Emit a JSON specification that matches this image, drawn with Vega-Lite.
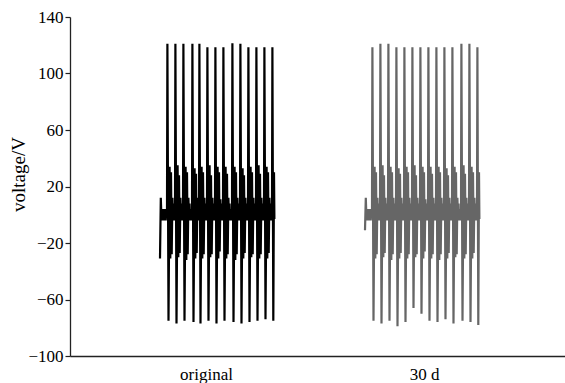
{
  "$schema": "https://vega.github.io/schema/vega-lite/v6.json",
  "width": 495,
  "height": 339,
  "autosize": {"type": "none"},
  "padding": {"left": 70, "top": 17, "right": 0, "bottom": 27},
  "background": "white",
  "config": {"view": {"stroke": null}},
  "datasets": {
    "w": [
      {"s":"a","t":90,"v":-31},{"s":"a","t":90.8,"v":12},{"s":"a","t":91.5,"v":-4},{"s":"a","t":92.2,"v":4},{"s":"a","t":92.9,"v":-4},{"s":"a","t":93.6,"v":4},{"s":"a","t":94.3,"v":-4},{"s":"a","t":95,"v":4},{"s":"a","t":95.7,"v":-4},{"s":"a","t":96.4,"v":3},
      {"s":"a","t":97,"v":3},{"s":"a","t":97.4,"v":121},{"s":"a","t":98.5,"v":-75},{"s":"a","t":99.6,"v":34},{"s":"a","t":100.3,"v":-31},{"s":"a","t":101,"v":30},{"s":"a","t":101.7,"v":-28},{"s":"a","t":102.4,"v":12},{"s":"a","t":103,"v":-4},{"s":"a","t":103.5,"v":8},{"s":"a","t":104,"v":-4},{"s":"a","t":104.5,"v":3},{"s":"a","t":104.8,"v":-3},
      {"s":"a","t":105,"v":3},{"s":"a","t":105.4,"v":121},{"s":"a","t":106.5,"v":-77},{"s":"a","t":107.6,"v":35},{"s":"a","t":108.3,"v":-30},{"s":"a","t":109,"v":28},{"s":"a","t":109.7,"v":-27},{"s":"a","t":110.4,"v":12},{"s":"a","t":111,"v":-4},{"s":"a","t":111.5,"v":8},{"s":"a","t":112,"v":-4},{"s":"a","t":112.5,"v":3},{"s":"a","t":112.8,"v":-3},
      {"s":"a","t":113,"v":3},{"s":"a","t":113.4,"v":121},{"s":"a","t":114.5,"v":-75},{"s":"a","t":115.6,"v":34},{"s":"a","t":116.3,"v":-32},{"s":"a","t":117,"v":30},{"s":"a","t":117.7,"v":-28},{"s":"a","t":118.4,"v":12},{"s":"a","t":119,"v":-4},{"s":"a","t":119.5,"v":8},{"s":"a","t":120,"v":-4},{"s":"a","t":120.5,"v":3},{"s":"a","t":121,"v":-4},{"s":"a","t":121.4,"v":4},{"s":"a","t":121.7,"v":-3},
      {"s":"a","t":122,"v":3},{"s":"a","t":122.4,"v":121},{"s":"a","t":123.5,"v":-76},{"s":"a","t":124.6,"v":33},{"s":"a","t":125.3,"v":-31},{"s":"a","t":126,"v":29},{"s":"a","t":126.7,"v":-27},{"s":"a","t":127.4,"v":12},{"s":"a","t":128,"v":-4},{"s":"a","t":128.5,"v":8},{"s":"a","t":128.8,"v":-3},
      {"s":"a","t":129,"v":3},{"s":"a","t":129.4,"v":121},{"s":"a","t":130.5,"v":-77},{"s":"a","t":131.6,"v":34},{"s":"a","t":132.3,"v":-31},{"s":"a","t":133,"v":30},{"s":"a","t":133.7,"v":-28},{"s":"a","t":134.4,"v":12},{"s":"a","t":135,"v":-4},{"s":"a","t":135.5,"v":8},{"s":"a","t":136,"v":-4},{"s":"a","t":136.5,"v":3},{"s":"a","t":136.8,"v":-3},
      {"s":"a","t":137,"v":3},{"s":"a","t":137.4,"v":118.5},{"s":"a","t":138.5,"v":-75},{"s":"a","t":139.6,"v":35},{"s":"a","t":140.3,"v":-30},{"s":"a","t":141,"v":28},{"s":"a","t":141.7,"v":-28},{"s":"a","t":142.4,"v":12},{"s":"a","t":143,"v":-4},{"s":"a","t":143.5,"v":8},{"s":"a","t":144,"v":-4},{"s":"a","t":144.5,"v":3},{"s":"a","t":144.8,"v":-3},
      {"s":"a","t":145,"v":3},{"s":"a","t":145.4,"v":118.5},{"s":"a","t":146.5,"v":-77},{"s":"a","t":147.6,"v":34},{"s":"a","t":148.3,"v":-31},{"s":"a","t":149,"v":30},{"s":"a","t":149.7,"v":-26},{"s":"a","t":150.4,"v":11},{"s":"a","t":151,"v":-4},{"s":"a","t":151.5,"v":8},{"s":"a","t":152,"v":-4},{"s":"a","t":152.5,"v":3},{"s":"a","t":152.8,"v":-3},
      {"s":"a","t":153,"v":3},{"s":"a","t":153.4,"v":118.5},{"s":"a","t":154.5,"v":-75},{"s":"a","t":155.6,"v":34},{"s":"a","t":156.3,"v":-31},{"s":"a","t":157,"v":29},{"s":"a","t":157.7,"v":-28},{"s":"a","t":158.4,"v":12},{"s":"a","t":159,"v":-4},{"s":"a","t":159.5,"v":8},{"s":"a","t":160,"v":-4},{"s":"a","t":160.5,"v":3},{"s":"a","t":161,"v":-4},{"s":"a","t":161.4,"v":4},{"s":"a","t":161.7,"v":-3},
      {"s":"a","t":162,"v":3},{"s":"a","t":162.4,"v":121.5},{"s":"a","t":163.5,"v":-76},{"s":"a","t":164.6,"v":34},{"s":"a","t":165.3,"v":-32},{"s":"a","t":166,"v":30},{"s":"a","t":166.7,"v":-28},{"s":"a","t":167.4,"v":12},{"s":"a","t":168,"v":-4},{"s":"a","t":168.5,"v":8},{"s":"a","t":169,"v":-4},{"s":"a","t":169.5,"v":3},{"s":"a","t":169.8,"v":-3},
      {"s":"a","t":170,"v":3},{"s":"a","t":170.4,"v":121},{"s":"a","t":171.5,"v":-77},{"s":"a","t":172.6,"v":33},{"s":"a","t":173.3,"v":-31},{"s":"a","t":174,"v":28},{"s":"a","t":174.7,"v":-27},{"s":"a","t":175.4,"v":12},{"s":"a","t":176,"v":-4},{"s":"a","t":176.5,"v":8},{"s":"a","t":177,"v":-4},{"s":"a","t":177.5,"v":3},{"s":"a","t":177.8,"v":-3},
      {"s":"a","t":178,"v":3},{"s":"a","t":178.4,"v":118.5},{"s":"a","t":179.5,"v":-76},{"s":"a","t":180.6,"v":34},{"s":"a","t":181.3,"v":-30},{"s":"a","t":182,"v":30},{"s":"a","t":182.7,"v":-28},{"s":"a","t":183.4,"v":12},{"s":"a","t":184,"v":-4},{"s":"a","t":184.5,"v":8},{"s":"a","t":185,"v":-4},{"s":"a","t":185.5,"v":3},{"s":"a","t":185.8,"v":-3},
      {"s":"a","t":186,"v":3},{"s":"a","t":186.4,"v":118.5},{"s":"a","t":187.5,"v":-75},{"s":"a","t":188.6,"v":35},{"s":"a","t":189.3,"v":-31},{"s":"a","t":190,"v":29},{"s":"a","t":190.7,"v":-28},{"s":"a","t":191.4,"v":12},{"s":"a","t":192,"v":-4},{"s":"a","t":192.5,"v":8},{"s":"a","t":193,"v":-4},{"s":"a","t":193.5,"v":3},{"s":"a","t":193.8,"v":-3},
      {"s":"a","t":194,"v":3},{"s":"a","t":194.4,"v":118.5},{"s":"a","t":195.5,"v":-74},{"s":"a","t":196.6,"v":34},{"s":"a","t":197.3,"v":-31},{"s":"a","t":198,"v":30},{"s":"a","t":198.7,"v":-27},{"s":"a","t":199.4,"v":12},{"s":"a","t":200,"v":-4},{"s":"a","t":200.5,"v":8},{"s":"a","t":201,"v":-4},{"s":"a","t":201.5,"v":3},{"s":"a","t":201.8,"v":-3},
      {"s":"a","t":202,"v":3},{"s":"a","t":202.4,"v":118.5},{"s":"a","t":203.3,"v":-75},{"s":"a","t":204,"v":30},{"s":"a","t":204.4,"v":-3},

      {"s":"b","t":295,"v":-11},{"s":"b","t":295.8,"v":12},{"s":"b","t":296.5,"v":-4},{"s":"b","t":297.2,"v":4},{"s":"b","t":297.9,"v":-4},{"s":"b","t":298.6,"v":4},{"s":"b","t":299.3,"v":-4},{"s":"b","t":300,"v":4},{"s":"b","t":300.7,"v":-4},{"s":"b","t":301.4,"v":3},
      {"s":"b","t":302,"v":3},{"s":"b","t":302.4,"v":118.5},{"s":"b","t":303.5,"v":-75},{"s":"b","t":304.6,"v":34},{"s":"b","t":305.3,"v":-31},{"s":"b","t":306,"v":30},{"s":"b","t":306.7,"v":-28},{"s":"b","t":307.4,"v":12},{"s":"b","t":308,"v":-4},{"s":"b","t":308.5,"v":8},{"s":"b","t":309,"v":-4},{"s":"b","t":309.5,"v":3},{"s":"b","t":309.8,"v":-3},
      {"s":"b","t":310,"v":3},{"s":"b","t":310.4,"v":121},{"s":"b","t":311.5,"v":-77},{"s":"b","t":312.6,"v":35},{"s":"b","t":313.3,"v":-30},{"s":"b","t":314,"v":28},{"s":"b","t":314.7,"v":-27},{"s":"b","t":315.4,"v":12},{"s":"b","t":316,"v":-4},{"s":"b","t":316.5,"v":8},{"s":"b","t":317,"v":-4},{"s":"b","t":317.5,"v":3},{"s":"b","t":317.8,"v":-3},
      {"s":"b","t":318,"v":3},{"s":"b","t":318.4,"v":121},{"s":"b","t":319.5,"v":-75},{"s":"b","t":320.6,"v":34},{"s":"b","t":321.3,"v":-32},{"s":"b","t":322,"v":30},{"s":"b","t":322.7,"v":-28},{"s":"b","t":323.4,"v":12},{"s":"b","t":324,"v":-4},{"s":"b","t":324.5,"v":8},{"s":"b","t":325,"v":-4},{"s":"b","t":325.5,"v":3},{"s":"b","t":325.8,"v":-3},
      {"s":"b","t":326,"v":3},{"s":"b","t":326.4,"v":118.5},{"s":"b","t":327.5,"v":-79},{"s":"b","t":328.6,"v":33},{"s":"b","t":329.3,"v":-31},{"s":"b","t":330,"v":29},{"s":"b","t":330.7,"v":-27},{"s":"b","t":331.4,"v":12},{"s":"b","t":332,"v":-4},{"s":"b","t":332.5,"v":8},{"s":"b","t":333,"v":-4},{"s":"b","t":333.5,"v":3},{"s":"b","t":333.8,"v":-3},
      {"s":"b","t":334,"v":3},{"s":"b","t":334.4,"v":118.5},{"s":"b","t":335.5,"v":-76},{"s":"b","t":336.6,"v":34},{"s":"b","t":337.3,"v":-31},{"s":"b","t":338,"v":30},{"s":"b","t":338.7,"v":-28},{"s":"b","t":339.4,"v":12},{"s":"b","t":340,"v":-4},{"s":"b","t":340.5,"v":8},{"s":"b","t":341,"v":-4},{"s":"b","t":341.5,"v":3},{"s":"b","t":341.8,"v":-3},
      {"s":"b","t":342,"v":3},{"s":"b","t":342.4,"v":118.5},{"s":"b","t":343.5,"v":-66},{"s":"b","t":344.6,"v":35},{"s":"b","t":345.3,"v":-30},{"s":"b","t":346,"v":28},{"s":"b","t":346.7,"v":-28},{"s":"b","t":347.4,"v":12},{"s":"b","t":348,"v":-4},{"s":"b","t":348.5,"v":8},{"s":"b","t":349,"v":-4},{"s":"b","t":349.5,"v":3},{"s":"b","t":349.8,"v":-3},
      {"s":"b","t":350,"v":3},{"s":"b","t":350.4,"v":118.5},{"s":"b","t":351.5,"v":-70},{"s":"b","t":352.6,"v":34},{"s":"b","t":353.3,"v":-31},{"s":"b","t":354,"v":30},{"s":"b","t":354.7,"v":-26},{"s":"b","t":355.4,"v":11},{"s":"b","t":356,"v":-4},{"s":"b","t":356.5,"v":8},{"s":"b","t":357,"v":-4},{"s":"b","t":357.5,"v":3},{"s":"b","t":357.8,"v":-3},
      {"s":"b","t":358,"v":3},{"s":"b","t":358.4,"v":118.5},{"s":"b","t":359.5,"v":-75},{"s":"b","t":360.6,"v":34},{"s":"b","t":361.3,"v":-31},{"s":"b","t":362,"v":29},{"s":"b","t":362.7,"v":-28},{"s":"b","t":363.4,"v":12},{"s":"b","t":364,"v":-4},{"s":"b","t":364.5,"v":8},{"s":"b","t":365,"v":-4},{"s":"b","t":365.5,"v":3},{"s":"b","t":365.8,"v":-3},
      {"s":"b","t":366,"v":3},{"s":"b","t":366.4,"v":118.5},{"s":"b","t":367.5,"v":-76},{"s":"b","t":368.6,"v":34},{"s":"b","t":369.3,"v":-32},{"s":"b","t":370,"v":30},{"s":"b","t":370.7,"v":-28},{"s":"b","t":371.4,"v":12},{"s":"b","t":372,"v":-4},{"s":"b","t":372.5,"v":8},{"s":"b","t":373,"v":-4},{"s":"b","t":373.5,"v":3},{"s":"b","t":373.8,"v":-3},
      {"s":"b","t":374,"v":3},{"s":"b","t":374.4,"v":118.5},{"s":"b","t":375.5,"v":-74},{"s":"b","t":376.6,"v":33},{"s":"b","t":377.3,"v":-31},{"s":"b","t":378,"v":28},{"s":"b","t":378.7,"v":-27},{"s":"b","t":379.4,"v":12},{"s":"b","t":380,"v":-4},{"s":"b","t":380.5,"v":8},{"s":"b","t":381,"v":-4},{"s":"b","t":381.5,"v":3},{"s":"b","t":381.8,"v":-3},
      {"s":"b","t":382,"v":3},{"s":"b","t":382.4,"v":118.5},{"s":"b","t":383.5,"v":-77},{"s":"b","t":384.6,"v":34},{"s":"b","t":385.3,"v":-30},{"s":"b","t":386,"v":30},{"s":"b","t":386.7,"v":-28},{"s":"b","t":387.4,"v":12},{"s":"b","t":388,"v":-4},{"s":"b","t":388.5,"v":8},{"s":"b","t":389,"v":-4},{"s":"b","t":389.5,"v":3},{"s":"b","t":390,"v":-4},{"s":"b","t":390.4,"v":4},{"s":"b","t":390.7,"v":-3},
      {"s":"b","t":391,"v":3},{"s":"b","t":391.4,"v":121},{"s":"b","t":392.5,"v":-75},{"s":"b","t":393.6,"v":35},{"s":"b","t":394.3,"v":-31},{"s":"b","t":395,"v":29},{"s":"b","t":395.7,"v":-28},{"s":"b","t":396.4,"v":12},{"s":"b","t":397,"v":-4},{"s":"b","t":397.5,"v":8},{"s":"b","t":398,"v":-4},{"s":"b","t":398.5,"v":3},{"s":"b","t":398.8,"v":-3},
      {"s":"b","t":399,"v":3},{"s":"b","t":399.4,"v":121},{"s":"b","t":400.5,"v":-76},{"s":"b","t":401.6,"v":34},{"s":"b","t":402.3,"v":-31},{"s":"b","t":403,"v":30},{"s":"b","t":403.7,"v":-27},{"s":"b","t":404.4,"v":12},{"s":"b","t":405,"v":-4},{"s":"b","t":405.5,"v":8},{"s":"b","t":406,"v":-4},{"s":"b","t":406.5,"v":3},{"s":"b","t":406.8,"v":-3},
      {"s":"b","t":407,"v":3},{"s":"b","t":407.4,"v":118.5},{"s":"b","t":408.3,"v":-78},{"s":"b","t":409,"v":30},{"s":"b","t":409.4,"v":-3}
    ]
  },
  "layer": [
    {
      "data": {"name": "w"},
      "mark": {"type": "line", "strokeWidth": 2.2, "interpolate": "linear"},
      "encoding": {
        "x": {
          "field": "t", "type": "quantitative",
          "scale": {"domain": [0, 495], "nice": false, "zero": false},
          "axis": {
            "values": [136, 354],
            "labelExpr": "datum.value < 250 ? 'original' : '30 d'",
            "title": null, "grid": false, "ticks": false,
            "domainColor": "#222", "domainWidth": 1.3,
            "labelFont": "Liberation Serif", "labelFontSize": 17, "labelColor": "black",
            "labelPadding": 10
          }
        },
        "y": {
          "field": "v", "type": "quantitative",
          "scale": {"domain": [-100, 140], "nice": false, "zero": false},
          "axis": {
            "values": [-100, -60, -20, 20, 60, 100, 140],
            "title": "voltage/V", "grid": false,
            "tickSize": 5, "tickColor": "#222", "tickWidth": 1.2,
            "domainColor": "#222", "domainWidth": 1.3,
            "labelFont": "Liberation Serif", "labelFontSize": 17, "labelColor": "black",
            "labelPadding": 2,
            "titleFont": "Liberation Serif", "titleFontSize": 19, "titleFontWeight": "normal", "titleColor": "black",
            "titleX": -52, "titleY": 157, "titleAlign": "center", "titleBaseline": "middle"
          }
        },
        "color": {
          "field": "s", "type": "nominal",
          "scale": {"domain": ["a", "b"], "range": ["#000000", "#666666"]},
          "legend": null
        }
      }
    },
    {
      "mark": {"type": "rule", "color": "#222", "strokeWidth": 1.3},
      "encoding": {"y": {"datum": 140}}
    }
  ]
}
